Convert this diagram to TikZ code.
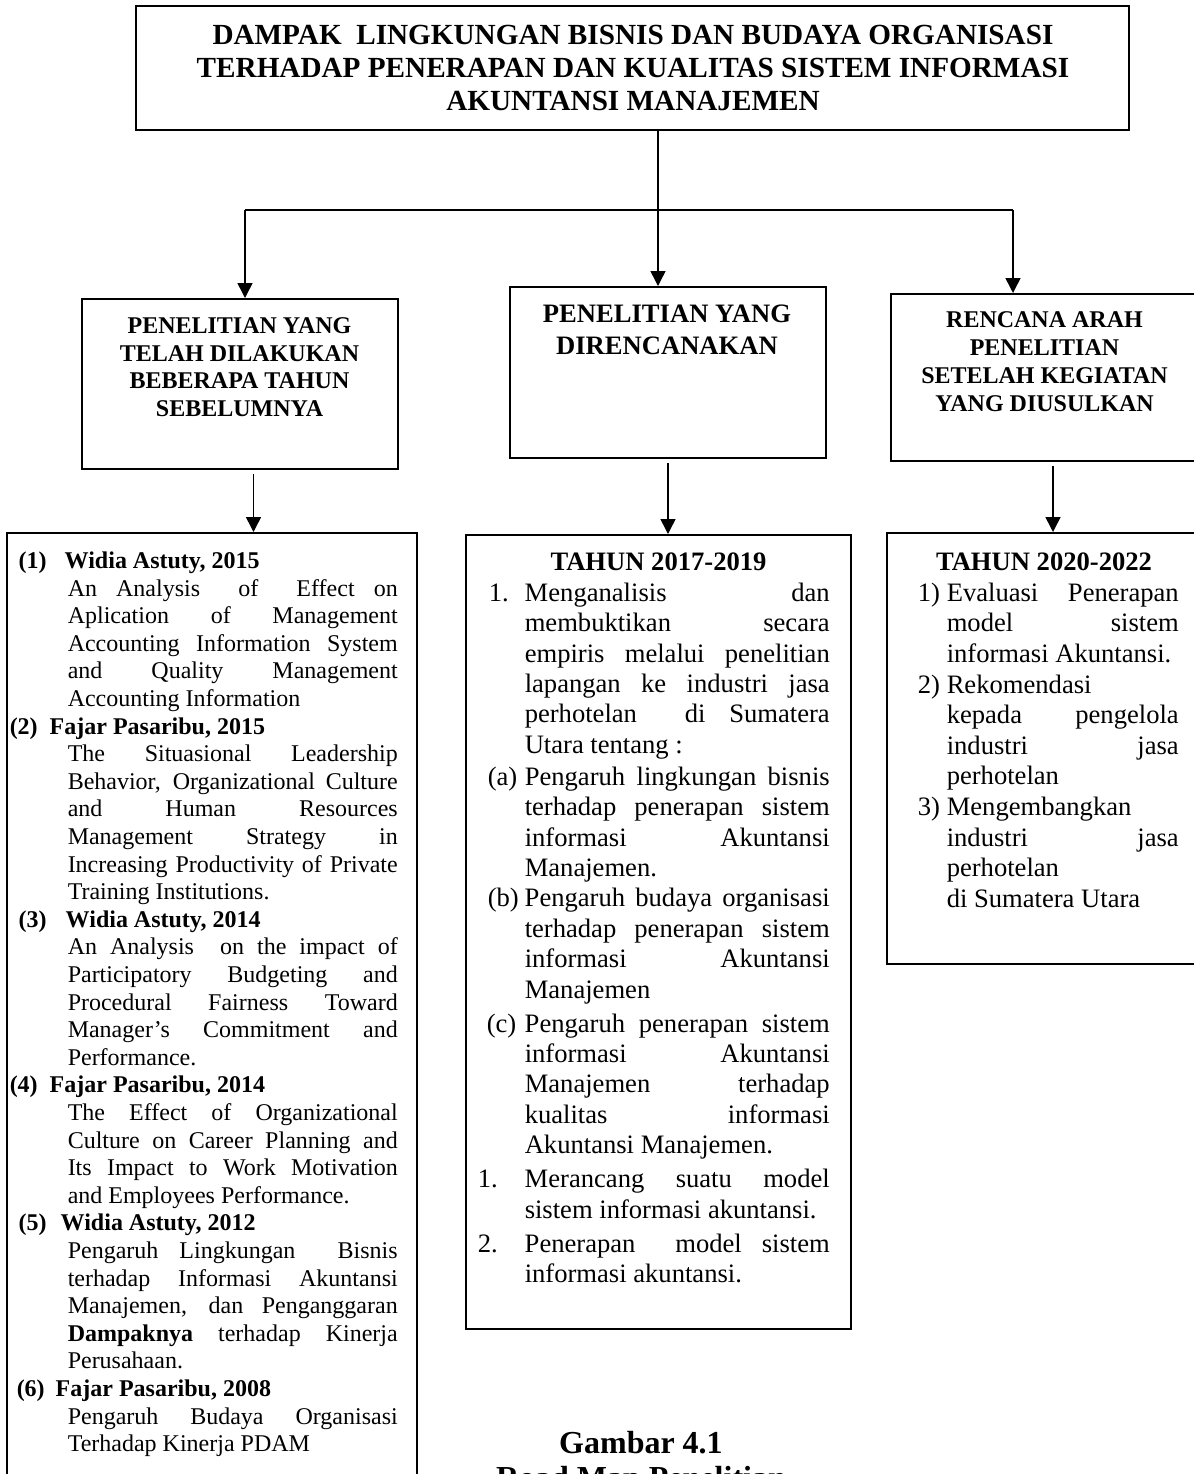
\documentclass[tikz,border=0pt]{standalone}
\usepackage{fontspec}
\setmainfont{Liberation Serif}
\usetikzlibrary{arrows.meta}
\tolerance=10000 \hbadness=10000
\hyphenpenalty=10000 \exhyphenpenalty=10000
% butir: lekuk, geser label, label, isi
\newcommand\butir[4]{\hangindent=#1\hangafter=1\noindent\makebox[#1][l]{\hspace*{#2}#3}#4\par}
% rujukan: geser nomor, lebar nomor, nomor, nama
\newcommand\rujuk[4]{\noindent\hspace*{#1}\makebox[#2][l]{\textbf{#3}}\textbf{#4}\par}
\tikzset{
  kotak/.style={draw, line width=1pt, inner sep=0pt},
  judul/.style={font=\bfseries\fontsize{12}{13.8}\selectfont, align=center, inner sep=0pt, anchor=north},
  isi/.style={inner sep=0pt, anchor=north west, align=justify},
  tahun/.style={font=\bfseries\fontsize{13.3}{15.2}\selectfont, inner sep=0pt, anchor=base},
}
\begin{document}
\begin{tikzpicture}[x=0.5pt, y=-0.5pt, >={Triangle[length=7.5pt,width=7.5pt]}, line width=0.75pt]
\useasboundingbox (0,0) rectangle (1194,1474);
% kotak
\node[kotak, minimum width=496.5pt, minimum height=62pt] (dampak) at (632,68) {};
\node[kotak, minimum width=158pt, minimum height=85pt] (prev) at (239.5,384) {};
\node[kotak, minimum width=158pt, minimum height=85.5pt] (plan) at (668,372.5) {};
\node[kotak, minimum width=153.5pt, minimum height=83.5pt] (next) at (1044.5,377.5) {};
\node[kotak, minimum width=204.75pt, minimum height=483pt] (lit) at (212,1016) {};
\node[kotak, minimum width=192.5pt, minimum height=397pt] (res) at (658.5,932) {};
\node[kotak, minimum width=156.5pt, minimum height=215.5pt] (fut) at (1043.5,748.5) {};
% panah
\coordinate (kiri) at (245,210);
\coordinate (tengah) at (658,210);
\coordinate (kanan) at (1013,210);
\coordinate (a1) at ([xshift=7pt]prev.south);
\coordinate (a3) at ([xshift=4.25pt]next.south);
\draw (kiri) -- (kanan);
\draw[->] (dampak.south -| tengah) -- (plan.north -| tengah);
\draw[->] (kiri) -- (kiri |- prev.north);
\draw[->] (kanan) -- (kanan |- next.north);
\draw[->, shorten <=2pt] (a1) -- (a1 |- lit.north);
\draw[->, shorten <=2pt] (plan.south) -- (plan.south |- res.north);
\draw[->, shorten <=2pt] (a3) -- (a3 |- fut.north);
% teks
\node[judul, font=\bfseries\fontsize{14.6}{16.5}\selectfont] (tdampak) at (633,24)
  {DAMPAK\ \ LINGKUNGAN BISNIS DAN BUDAYA ORGANISASI\\TERHADAP PENERAPAN DAN KUALITAS SISTEM INFORMASI\\AKUNTANSI MANAJEMEN};
\node[judul] (tprev) at (239.5,317) {PENELITIAN YANG\\TELAH DILAKUKAN\\BEBERAPA TAHUN\\SEBELUMNYA};
\node[judul, font=\bfseries\fontsize{13.3}{16}\selectfont] (tplan) at (667,304) {PENELITIAN YANG\\DIRENCANAKAN};
\node[judul, font=\bfseries\fontsize{12}{14}\selectfont] (tnext) at (1044.5,311) {RENCANA ARAH\\PENELITIAN\\SETELAH KEGIATAN\\YANG DIUSULKAN};
\node[isi, text width=194pt, font=\fontsize{12}{13.8}\selectfont] (tlit) at (9,551) {%
\rujuk{4.5pt}{23pt}{(1)}{Widia Astuty, 2015}
\butir{29pt}{0pt}{}{An Analysis\ \ of\ \ Effect on\linebreak Aplication of Management\linebreak Accounting Information System\linebreak and Quality Management\linebreak Accounting Information}
\rujuk{0pt}{20pt}{(2)}{Fajar Pasaribu, 2015}
\butir{29pt}{0pt}{}{The Situasional Leadership\linebreak Behavior, Organizational Culture\linebreak and Human Resources\linebreak Management Strategy in\linebreak Increasing Productivity of Private\linebreak Training Institutions.}
\rujuk{4.5pt}{23.5pt}{(3)}{Widia Astuty, 2014}
\butir{29pt}{0pt}{}{An Analysis\ \ on the impact of\linebreak Participatory Budgeting and\linebreak Procedural Fairness Toward\linebreak Manager’s Commitment and\linebreak Performance.}
\rujuk{0pt}{20pt}{(4)}{Fajar Pasaribu, 2014}
\butir{29pt}{0pt}{}{The Effect of Organizational\linebreak Culture on Career Planning and\linebreak Its Impact to Work Motivation\linebreak and Employees Performance.}
\rujuk{4.5pt}{21pt}{(5)}{Widia Astuty, 2012}
\butir{29pt}{0pt}{}{Pengaruh Lingkungan\ \ Bisnis\linebreak terhadap Informasi Akuntansi\linebreak Manajemen, dan Penganggaran\linebreak \textbf{Dampaknya} terhadap Kinerja\linebreak Perusahaan.}
\rujuk{3.5pt}{19.5pt}{(6)}{Fajar Pasaribu, 2008}
\butir{29pt}{0pt}{}{Pengaruh Budaya Organisasi\linebreak Terhadap Kinerja PDAM}};
\node[tahun] (tres) at (658.5,570) {TAHUN 2017-2019};
\node[isi, text width=176pt, font=\fontsize{13.3}{15.2}\selectfont] (ires) at (477,582) {%
\butir{23.5pt}{5.5pt}{1.}{Menganalisis dan\linebreak membuktikan secara\linebreak empiris melalui penelitian\linebreak lapangan ke industri jasa\linebreak perhotelan\ \ di Sumatera\linebreak Utara tentang :}
\vspace{0.8pt}
\butir{23.5pt}{5pt}{(a)}{Pengaruh lingkungan bisnis\linebreak terhadap penerapan sistem\linebreak informasi Akuntansi\linebreak Manajemen.}
\butir{23.5pt}{5pt}{(b)}{Pengaruh budaya organisasi\linebreak terhadap penerapan sistem\linebreak informasi Akuntansi\linebreak Manajemen}
\vspace{1.8pt}
\butir{23.5pt}{4.5pt}{(c)}{Pengaruh penerapan sistem\linebreak informasi Akuntansi\linebreak Manajemen terhadap\linebreak kualitas informasi\linebreak Akuntansi Manajemen.}
\vspace{1.8pt}
\butir{23.5pt}{0pt}{1.}{Merancang suatu model\linebreak sistem informasi akuntansi.}
\vspace{2pt}
\butir{23.5pt}{0pt}{2.}{Penerapan\ \ model sistem\linebreak informasi akuntansi.}};
\node[tahun] (tfut) at (1044,570) {TAHUN 2020-2022};
\node[isi, text width=130.5pt, font=\fontsize{13.3}{15.3}\selectfont] (ifut) at (917,582) {%
\butir{14.5pt}{0pt}{1)}{Evaluasi\ \ Penerapan\linebreak model sistem\linebreak informasi Akuntansi.}
\butir{14.5pt}{0pt}{2)}{Rekomendasi\linebreak kepada pengelola\linebreak industri jasa\linebreak perhotelan}
\butir{14.5pt}{0pt}{3)}{Mengembangkan\linebreak industri jasa\linebreak perhotelan\linebreak di Sumatera Utara}};
\node[judul, font=\bfseries\fontsize{16}{17.5}\selectfont] (gambar) at (641,1431) {Gambar 4.1\\Road Map Penelitian};
\end{tikzpicture}
\end{document}
